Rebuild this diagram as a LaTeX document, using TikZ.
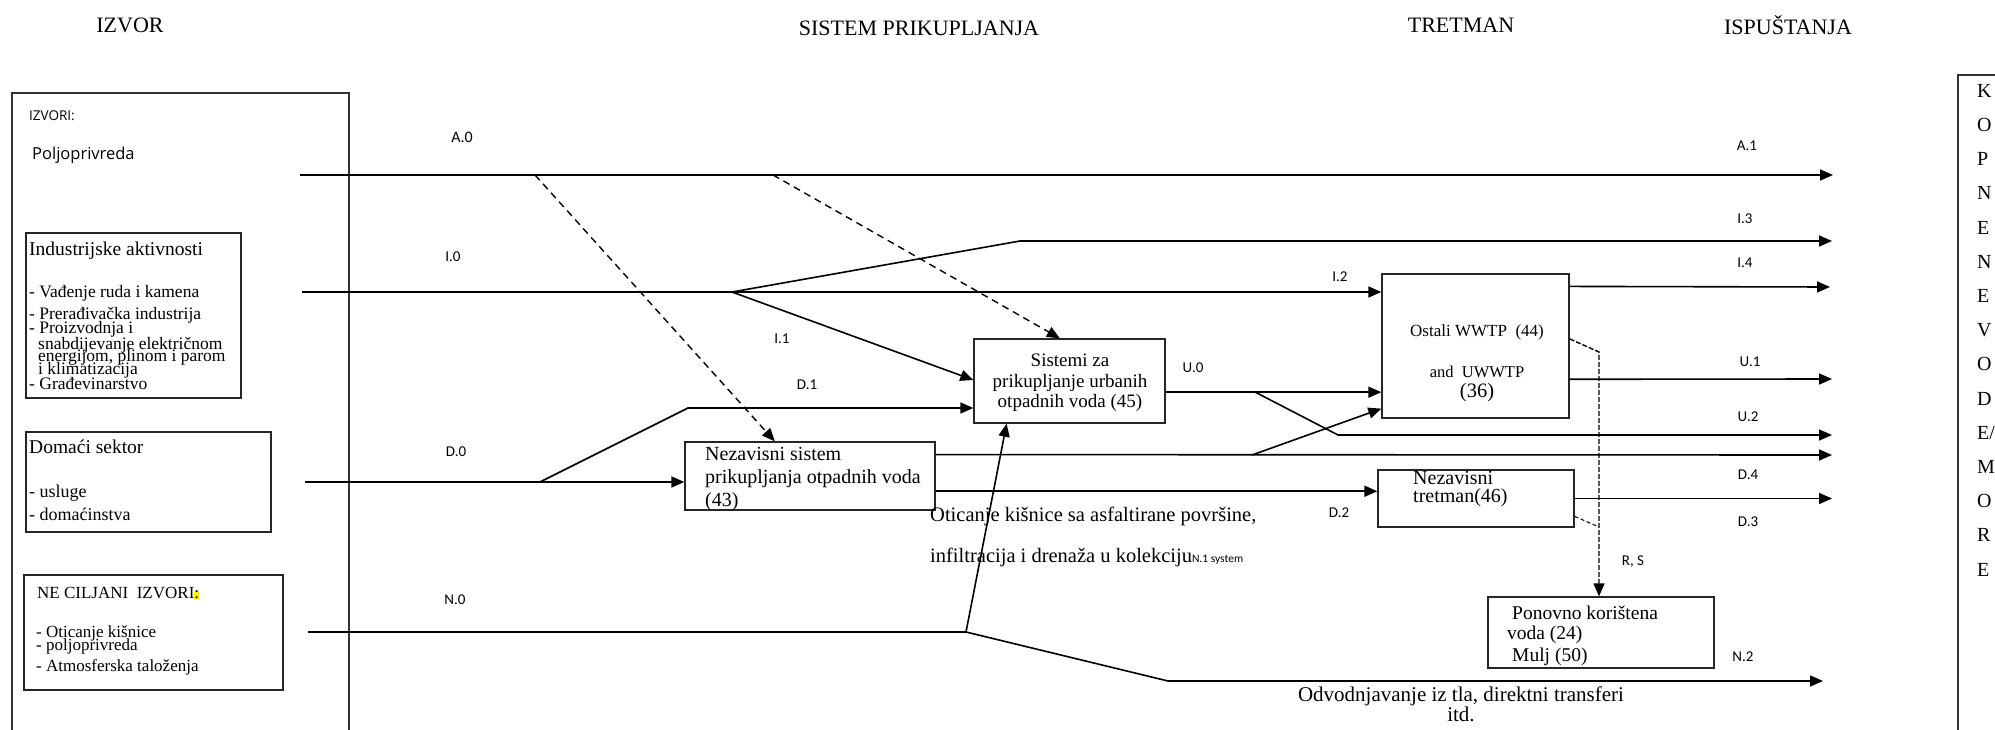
\documentclass[tikz,border=0pt]{standalone}
\usepackage{fontspec}
\setmainfont{Liberation Serif}
\newfontfamily\labfont{Carlito}
\newfontfamily\osfont{Open Sans}
\usetikzlibrary{arrows.meta,calc}
\newcommand\fsz[1]{\fontsize{#1}{#1}\selectfont}
\begin{document}
\begin{tikzpicture}[x=1pt,y=-1pt,
  box/.style={draw=black!85, line width=1.3pt, inner sep=0pt},
  frame/.style={draw=black!80, line width=1.3pt},
  conn/.style={line width=1.6pt},
  arr/.style={line width=1.6pt,-{Triangle[length=13pt,width=11pt]}},
  dsh/.style={line width=1.4pt, dash pattern=on 7pt off 5pt,-{Triangle[length=13pt,width=11pt]}},
  rsd/.style={line width=1.4pt, dash pattern=on 5pt off 2pt,-{Triangle[length=13pt,width=11pt]}},
  rsthin/.style={line width=1pt, dash pattern=on 4pt off 2.5pt},
  lab/.style={font=\labfont\fsz{15}, inner sep=0pt},
  hdr/.style={font=\fsz{22}, inner sep=0pt},
  txt/.style={inner sep=0pt, anchor=west},
  ln/.style={inner sep=0pt, anchor=base west},
]
\useasboundingbox (0,0) rectangle (1995,730);

% headers
\node[hdr] (hizv) at (130,25) {IZVOR};
\node[hdr] (hsis) at (919,28) {SISTEM PRIKUPLJANJA};
\node[hdr] (htre) at (1461,25) {TRETMAN};
\node[hdr] (hisp) at (1788,25) {ISPUŠTANJA};

% outer frames
\draw[frame] (12,745) -- (12,93) -- (349,93) -- (349,745);
\draw[frame] (1958,745) -- (1958,75) -- (2000,75);
\node[inner sep=0pt, anchor=north west, align=left, font=\fontsize{20}{34.2}\selectfont] (kop) at (1977,84)
 {K\\O\\P\\N\\E\\N\\E\\V\\O\\D\\E/\\M\\O\\R\\E};

% left texts
\node[txt, font=\osfont\fsz{13.5}] (izvori) at (29,116) {IZVORI:};
\node[txt, font=\osfont\fsz{16.5}] (polj) at (32,155) {Poljoprivreda};

% boxes
\node[box, minimum width=215pt, minimum height=165pt] (ind) at (133.5,315.5) {};
\node[box, minimum width=245pt, minimum height=100pt] (dom) at (148.5,482) {};
\node[box, minimum width=259pt, minimum height=115pt] (nec) at (153.5,632.5) {};
\node[box, minimum width=191pt, minimum height=84pt] (sis) at (1069.5,381) {};
\node[box, minimum width=250pt, minimum height=68pt] (nez) at (810,476) {};
\node[box, minimum width=187pt, minimum height=144pt] (ost) at (1475.5,346) {};
\node[box, minimum width=196pt, minimum height=57pt] (nzt) at (1476,498.5) {};
\node[box, minimum width=226pt, minimum height=71pt] (pon) at (1601,632.5) {};

% industrijske
\node[ln, font=\fsz{19.5}] (ind0) at (29,255) {Industrijske aktivnosti};
\node[ln, font=\fsz{17.5}] (ind1) at (29,297.5) {- Vađenje ruda i kamena};
\node[ln, font=\fsz{17.5}] (ind2) at (29,319.5) {- Prerađivačka industrija};
\node[ln, font=\fsz{17.5}] (ind3) at (29,333.5) {- Proizvodnja i};
\node[ln, font=\fsz{17.5}] (ind4) at (38,349) {snabdijevanje električnom};
\node[ln, font=\fsz{17.5}] (ind5) at (38,361.5) {energijom, plinom i parom};
\node[ln, font=\fsz{17.5}] (ind6) at (38,374) {i klimatizacija};
\node[ln, font=\fsz{17.5}] (ind7) at (29,389) {- Građevinarstvo};

% domaci
\node[txt, font=\fsz{19.5}] (dom0) at (29,447) {Domaći sektor};
\node[txt, font=\fsz{18}] (dom1) at (29,493) {- usluge};
\node[txt, font=\fsz{18}] (dom2) at (29,514) {- domaćinstva};

% ne ciljani
\node[txt, font=\fsz{17}] (nec0) at (37,593) {NE CILJANI\ \ IZVORI{\setlength\fboxsep{0pt}\colorbox{yellow}{:}}};
\node[ln, font=\fsz{17}] (nec1) at (36,637) {- Oticanje kišnice};
\node[ln, font=\fsz{17}] (nec2) at (36,650) {- poljoprivreda};
\node[ln, font=\fsz{17}] (nec3) at (36,671) {- Atmosferska taloženja};

% box texts
\node[inner sep=0pt, align=center, font=\fontsize{19}{20.5}\selectfont] (sist) at (1070,383)
 {Sistemi za\\prikupljanje urbanih\\otpadnih voda (45)};
\node[txt, align=left, font=\fontsize{20}{23}\selectfont] (nezt) at (705,479)
 {Nezavisni sistem\\prikupljanja otpadnih voda\\(43)};
\node[inner sep=0pt, font=\fsz{17}] (ost1) at (1477,332) {Ostali WWTP\ \ (44)};
\node[inner sep=0pt, font=\fsz{16.5}] (ost2) at (1477,372) {and\ \ UWWTP};
\node[inner sep=0pt, font=\fsz{20.5}] (ost3) at (1477,393) {(36)};
\node[txt, align=left, font=\fontsize{20}{18}\selectfont] (nztt) at (1413,489) {Nezavisni\\tretman(46)};
\node[txt, font=\fsz{19.5}] (pon1) at (1512,613) {Ponovno korištena};
\node[txt, font=\fsz{19.5}] (pon2) at (1507,635) {voda (24)};
\node[txt, font=\fsz{19.5}] (pon3) at (1512,657) {Mulj (50)};

% middle / bottom texts
\node[txt, font=\fsz{20.5}] (otic) at (930,516) {Oticanje kišnice sa asfaltirane površine,};
\node[txt, font=\fsz{20.5}] (infi) at (930,557) {infiltracija i drenaža u kolekciju{\labfont\fsz{11.5}N.1 system}};
\node[inner sep=0pt, align=center, font=\fontsize{21}{15}\selectfont] (odv) at (1461,704)
 {Odvodnjavanje iz tla, direktni transferi\\itd.};

% coordinates
\coordinate (a0) at (300,175);
\coordinate (a1) at (1833,175);
\coordinate (sa1) at (535,175);
\coordinate (sa2) at (773,175);
\coordinate (i0) at (302,292);
\coordinate (si) at (732,292);
\coordinate (bi) at (1020,241);
\coordinate (i3) at (1832,241);
\coordinate (d0) at (305,482);
\coordinate (sd) at (540,482);
\coordinate (bd) at (688,408);
\coordinate (n0) at (308,632);
\coordinate (tn) at (966,632);
\coordinate (bn) at (1168,681);
\coordinate (n2) at (1823,681);
\coordinate (u0) at ($(sis.north east)!0.631!(sis.south east)$);
\coordinate (su) at (1255,392);
\coordinate (bu) at (1338,435);
\coordinate (u2) at (1832,435);
\coordinate (nz1) at ($(nez.north east)!0.191!(nez.south east)$);
\coordinate (snz) at (1252,455);
\coordinate (nzend) at (1832,455);
\coordinate (nz2) at ($(nez.north east)!0.72!(nez.south east)$);
\coordinate (o1) at ($(ost.north east)!0.09!(ost.south east)$);
\coordinate (i4) at (1830,287);
\coordinate (o2) at ($(ost.north east)!0.729!(ost.south east)$);
\coordinate (u1) at (1832,379);
\coordinate (d4) at (1832,498.5);
\coordinate (o3) at ($(ost.north east)!0.451!(ost.south east)$);
\coordinate (rs) at (1599,352);
\coordinate (rj) at (1599,527);

% connectors
\draw[arr] (a0) -- (a1);
\draw[dsh] (sa1) -- ($(nez.north west)!0.36!(nez.north east)$);
\draw[dsh] (sa2) -- ($(sis.north west)!0.45!(sis.north east)$);
\draw[arr] (i0) -- (ost.west |- i0);
\draw[arr] (si) -- (bi) -- (i3);
\draw[arr] (si) -- ($(sis.north west)!0.488!(sis.south west)$);
\draw[arr] (d0) -- (nez.west |- d0);
\draw[arr] (sd) -- (bd) -- (sis.west |- bd);
\draw[conn] (n0) -- (tn);
\draw[arr] (tn) -- ($(sis.south west)!0.173!(sis.south east)$);
\draw[arr] (tn) -- (bn) -- (n2);
\draw[arr] (u0) -- (ost.west |- u0);
\draw[arr] (su) -- (bu) -- (u2);
\draw[arr] (nz1) -- (nzend);
\draw[arr] (snz) -- ($(ost.north west)!0.931!(ost.south west)$);
\draw[arr] (nz2) -- (nzt.west |- nz2);
\draw[arr] (o1) -- (i4);
\draw[arr] (o2) -- (u1);
\draw[arr] (nzt.east) -- (d4);
\draw[rsd] (o3) -- (rs) -- (rs |- pon.north);
\draw[rsthin] ($(nzt.north east)!0.807!(nzt.south east)$) -- (rj);

% labels
\node[lab, font=\labfont\fsz{16}] (la0) at (462,137) {A.0};
\node[lab] (li0) at (453,257) {I.0};
\node[lab] (li1) at (782,339) {I.1};
\node[lab] (ld1) at (807,385) {D.1};
\node[lab] (ld0) at (456,452) {D.0};
\node[lab] (ln0) at (455,600) {N.0};
\node[lab] (lu0) at (1193,368) {U.0};
\node[lab] (li2) at (1340,277) {I.2};
\node[lab] (ld2) at (1339,513) {D.2};
\node[lab] (la1) at (1747,146) {A.1};
\node[lab] (li3) at (1745,219) {I.3};
\node[lab] (li4) at (1745,263) {I.4};
\node[lab] (lu1) at (1750,362) {U.1};
\node[lab] (lu2) at (1748,417) {U.2};
\node[lab] (ld4) at (1748,475) {D.4};
\node[lab] (ld3) at (1748,522) {D.3};
\node[lab] (lrs) at (1633,562) {R, S};
\node[lab] (ln2) at (1743,657) {N.2};
\end{tikzpicture}
\end{document}
